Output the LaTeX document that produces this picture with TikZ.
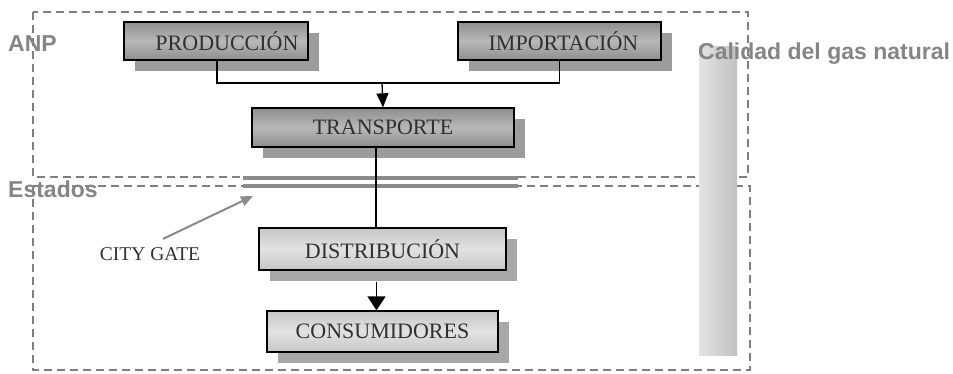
\documentclass[tikz,border=0pt]{standalone}
\usepackage{fontspec}
\setmainfont{Liberation Serif}
\newfontfamily\labfont{Liberation Sans}
\usetikzlibrary{arrows.meta,shadows}
\definecolor{dashc}{HTML}{808080}
\definecolor{labc}{HTML}{858585}
\definecolor{darkedge}{HTML}{8E8E8E}
\definecolor{darkmid}{HTML}{B8B8B8}
\definecolor{darkshadow}{HTML}{9C9C9C}
\definecolor{lightedge}{HTML}{C6C6C6}
\definecolor{lightmid}{HTML}{E2E2E2}
\definecolor{lightshadow}{HTML}{A8A8A8}
\definecolor{barleft}{HTML}{E4E4E4}
\definecolor{barright}{HTML}{C0C0C0}
\definecolor{boxtext}{HTML}{303030}
\definecolor{gatec}{HTML}{8A8A8A}
\begin{document}
\begin{tikzpicture}[x=1pt,y=-1pt,
  zone/.style={draw=dashc,line width=1.8pt,dash pattern=on 8pt off 5pt},
  boxbase/.style={draw=black,line width=1.3pt,rectangle,inner sep=0pt,
    font=\fontsize{22}{24}\selectfont,text=boxtext},
  darkbox/.style={boxbase,top color=darkedge,bottom color=darkedge,middle color=darkmid,
    general shadow={shadow xshift=11pt,shadow yshift=-11pt,fill=darkshadow}},
  lightbox/.style={boxbase,top color=lightedge,bottom color=lightedge,middle color=lightmid,
    general shadow={shadow xshift=11pt,shadow yshift=-11pt,fill=lightshadow}},
  zonelabel/.style={font=\labfont\bfseries\fontsize{23}{26}\selectfont,text=labc,inner sep=0pt},
  conn/.style={draw=black,line width=1.3pt},
  tipsmall/.style={-{Triangle[width=12pt,length=14pt]}},
  tipbig/.style={-{Triangle[width=18pt,length=14pt]}}
]
\useasboundingbox (0,0) rectangle (953,374);
% zones
\draw[zone] (33,12) rectangle (748,177);
\draw[zone] (33,186) rectangle (750,370);
% city gate double line
\coordinate (cga) at (243,178);
\coordinate (cgb) at (518,178);
\coordinate (cgc) at (243,186);
\coordinate (cgd) at (518,186);
\draw[gatec,line width=4pt] (cga) -- (cgb);
\draw[gatec,line width=4pt] (cgc) -- (cgd);
% quality bar
\path[left color=barleft,right color=barright] (699,47) rectangle (737,355);
% zone labels
\node[zonelabel,anchor=base west] (anp) at (8,52) {ANP};
\node[zonelabel,anchor=base west] (est) at (8,198) {Estados};
\node[zonelabel,anchor=base west] (cal) at (698,60) {Calidad del gas natural};
% boxes
\node[darkbox,minimum width=184pt,minimum height=38pt] (prod) at (216,41) {\hspace*{22pt}PRODUCCIÓN};
\node[darkbox,minimum width=203pt,minimum height=38pt] (imp) at (559.5,41) {\hspace*{8pt}IMPORTACIÓN};
\node[darkbox,minimum width=262pt,minimum height=39pt] (trans) at (383,127.5) {TRANSPORTE};
\node[lightbox,minimum width=247pt,minimum height=42pt] (dist) at (382.5,249) {DISTRIBUCIÓN};
\node[lightbox,minimum width=231pt,minimum height=41pt] (cons) at (382.5,331.5) {CONSUMIDORES};
% connectors
\coordinate (join) at (382,83);
\draw[conn] ([xshift=1pt]prod.south) |- (join) -| (imp.south);
\draw[conn,tipsmall] (join) -- (trans.north);
\draw[conn] ([xshift=-7pt]trans.south) -- ([xshift=-7pt]trans.south |- dist.north);
\draw[conn,tipbig] ([xshift=-6pt,yshift=-11pt]dist.south) -- ([xshift=-6pt]cons.north);
% city gate label
\node[font=\fontsize{19.5}{22}\selectfont,text=boxtext,anchor=base,inner sep=0pt] (cg) at (150,260) {CITY GATE};
\coordinate (cgt) at ([xshift=13pt,yshift=8pt]cg.north);
\draw[gatec,line width=2pt,-{Triangle[width=10pt,length=12pt]}] (cgt) -- ([xshift=10pt]cga |- 0,196);
\end{tikzpicture}
\end{document}
